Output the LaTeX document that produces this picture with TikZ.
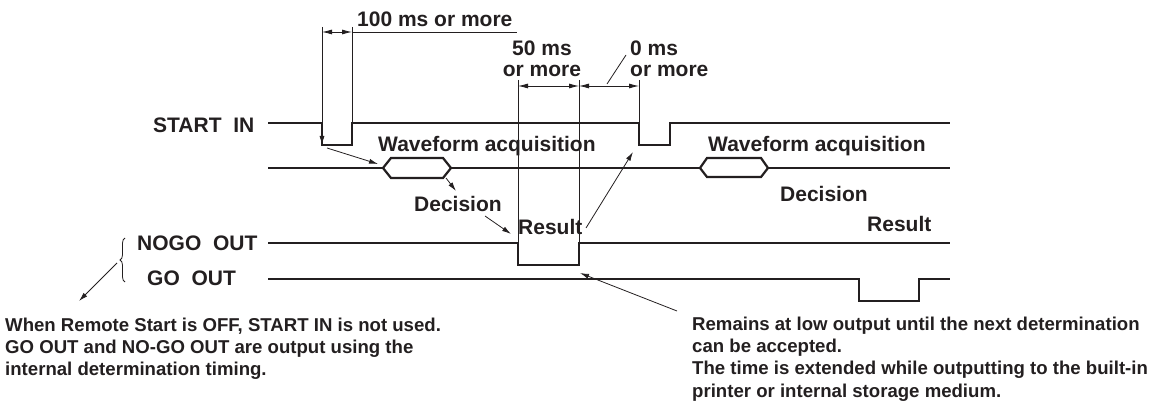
\documentclass[tikz,border=0pt]{standalone}
\usepackage{fontspec}
\setmainfont{Liberation Sans}
\usetikzlibrary{arrows.meta,decorations.pathreplacing}
\definecolor{ink}{RGB}{35,31,32}
\begin{document}
\begin{tikzpicture}[x=1pt,y=-1pt,
  sig/.style={line width=2.2pt,draw=ink,line join=miter},
  thinline/.style={line width=0.8pt,draw=ink},
  arr/.style={thinline,-{Latex[length=9pt,width=5pt]}},
  dim/.style={thinline,{Latex[length=10pt,width=5pt]}-{Latex[length=10pt,width=5pt]}},
  lbl/.style={font=\fontsize{21}{21.5}\bfseries\selectfont,inner sep=0pt,text=ink},
  note/.style={font=\fontsize{18.6}{22.3}\bfseries\selectfont,inner sep=0pt,align=left,text=ink}]
\useasboundingbox (0,0) rectangle (1155,403);

% ---- key coordinates
\coordinate (s1a) at (322,145);
\coordinate (h1w) at (383,168);
\coordinate (h1se) at (443,178);
\coordinate (nfall) at (518,243);
\coordinate (nlow) at (579,265);
\coordinate (s2low) at (639,145);

% ---- signals
\draw[sig] (268,123) -- (322,123) -- (322,145) -- (352,145) -- (352,123) -- (639,123)
  -- (639,145) -- (670,145) -- (670,123) -- (950,123);
\draw[sig] (268,168) -- (383,168);
\draw[sig] (383,168) -- (391,158) -- (443,158) -- (451,168) -- (443,178) -- (391,178) -- cycle;
\draw[sig] (451,168) -- (700,168);
\draw[sig] (700,168) -- (707,158) -- (761,158) -- (768,168) -- (761,177) -- (707,177) -- cycle;
\draw[sig] (768,168) -- (950,168);
\draw[sig] (268,243) -- (518,243) -- (518,265) -- (579,265) -- (579,243) -- (950,243);
\draw[sig] (268,279) -- (859,279) -- (859,301) -- (919,301) -- (919,279) -- (950,279);

% ---- timing marks
\coordinate (t1top) at (322,27);
\coordinate (t2top) at (352,27);
\coordinate (t2bot) at (352,123);
\draw[arr] (t1top) -- (s1a);
\draw[thinline] (t2top) -- (t2bot);
\coordinate (d1a) at (322,32);
\coordinate (d1b) at (352,32);
\coordinate (d1c) at (517,32);
\draw[dim] (d1a) -- (d1b);
\draw[thinline] (d1b) -- (d1c);

\coordinate (v1top) at (518,80);
\coordinate (v2top) at (579,80);
\coordinate (v2bot) at (579,243);
\coordinate (v3top) at (639,80);
\coordinate (v3bot) at (639,123);
\draw[thinline] (v1top) -- (nfall);
\draw[thinline] (v2top) -- (v2bot);
\draw[thinline] (v3top) -- (v3bot);
\coordinate (d2a) at (518,86);
\coordinate (d2b) at (579,86);
\coordinate (d2c) at (639,86);
\draw[dim] (d2a) -- (d2b);
\draw[dim] (d2b) -- (d2c);
\coordinate (sl1) at (607,84);
\coordinate (sl2) at (626,55);
\draw[thinline] (sl1) -- (sl2);

% ---- labels
\node[lbl,anchor=base west] (startin) at (153,133) {START~~IN};
\node[lbl,anchor=base west] (nogo) at (137,250) {NOGO~~OUT};
\node[lbl,anchor=base west] (go) at (147,285) {GO~~OUT};
\node[lbl,anchor=base west] (hundred) at (357,26.5) {100 ms or more};
\node[lbl,anchor=north,align=center] (fifty) at (542,40.5) {50 ms\\or more};
\node[lbl,anchor=north west,align=left] (zero) at (630,40.5) {0 ms\\or more};
\node[lbl,anchor=base west] (wave1) at (378,152) {Waveform acquisition};
\node[lbl,anchor=base west] (wave2) at (708,152) {Waveform acquisition};
\node[lbl,anchor=base west] (dec1) at (414,212) {Decision};
\node[lbl,anchor=base west] (dec2) at (780,202) {Decision};
\node[lbl,anchor=base west] (res1) at (518,235) {Result};
\node[lbl,anchor=base west] (res2) at (867,232) {Result};

\node[note,anchor=north west] (noteL) at (5,317.5)
  {When Remote Start is OFF, START IN is not used.\\GO OUT and NO-GO OUT are output using the\\internal determination timing.};
\node[note,anchor=north west] (noteR) at (692,316.5)
  {Remains at low output until the next determination\\can be accepted.\\The time is extended while outputting to the built-in\\printer or internal storage medium.};

% ---- brace
\coordinate (brb) at (125,282);
\coordinate (brt) at (125,238);
\draw[thinline,decorate,decoration={brace,amplitude=5pt}] (brb) -- (brt);

% ---- pointer arrows
\coordinate (a1s) at (327,148);
\coordinate (a1e) at (378,164);
\draw[arr] (a1s) -- (a1e);
\coordinate (a2s) at (446,178);
\coordinate (a2e) at (456,191);
\draw[arr] (a2s) -- (a2e);
\coordinate (a3s) at (485,216);
\coordinate (a3e) at (511,234);
\draw[arr] (a3s) -- (a3e);
\coordinate (a4s) at (586,228);
\coordinate (a4e) at (633,152);
\draw[arr] (a4s) -- (a4e);
\coordinate (a5s) at (677,311);
\coordinate (a5e) at (580,273);
\draw[arr] (a5s) -- (a5e);
\coordinate (a6s) at (117,263);
\coordinate (a6e) at (79,301);
\draw[arr] (a6s) -- (a6e);
\end{tikzpicture}
\end{document}
